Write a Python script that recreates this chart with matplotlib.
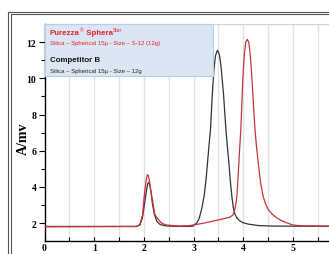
import matplotlib
matplotlib.use("Agg")
import matplotlib.pyplot as plt
from matplotlib.lines import Line2D
from matplotlib.patches import Rectangle

# ---- data ----
black_x = [0, 1.85, 1.92, 1.97, 2.02, 2.06, 2.08, 2.10, 2.12, 2.14, 2.17, 2.21, 2.26, 2.33,
           2.45, 2.7, 2.98, 3.06, 3.11, 3.16, 3.21, 3.25, 3.28, 3.31, 3.34, 3.38, 3.41,
           3.44, 3.48, 3.52, 3.55, 3.60, 3.65, 3.68, 3.71, 3.74, 3.77, 3.80, 3.83, 3.87,
           3.92, 4.0, 4.1, 4.3, 4.6, 5.73]
black_y = [1.82, 1.82, 1.90, 2.30, 3.20, 3.95, 4.20, 4.25, 4.10, 3.80, 3.10, 2.50, 2.10,
           1.92, 1.85, 1.82, 1.83, 2.00, 2.25, 2.75, 3.47, 4.40, 5.34, 6.30, 7.18, 9.30,
           10.5, 11.25, 11.55, 11.3, 10.7, 9.20, 7.18, 6.20, 5.34, 4.30, 3.47, 2.85, 2.50,
           2.30, 2.15, 2.02, 1.95, 1.87, 1.84, 1.83]

red_x = [0, 1.85, 1.92, 1.975, 2.0, 2.03, 2.05, 2.07, 2.09, 2.11, 2.13, 2.15, 2.18, 2.22,
         2.29, 2.36, 2.45, 2.7, 2.93, 3.2, 3.53, 3.73, 3.79, 3.82, 3.85, 3.87, 3.89, 3.92,
         3.95, 3.99, 4.02, 4.05, 4.08, 4.11, 4.14, 4.175, 4.21, 4.235, 4.27, 4.31, 4.35,
         4.40, 4.45, 4.50, 4.58, 4.67, 4.77, 4.87, 5.0, 5.2, 5.73]
red_y = [1.80, 1.82, 1.92, 2.48, 3.31, 4.05, 4.45, 4.68, 4.62, 4.35, 3.95, 3.60, 3.15,
         2.48, 2.20, 2.00, 1.90, 1.84, 1.87, 2.00, 2.20, 2.33, 2.45, 2.65, 3.05, 3.47,
         4.30, 5.80, 7.18, 9.94, 11.3, 12.0, 12.15, 12.0, 11.3, 9.94, 8.30, 7.18, 6.10,
         5.10, 4.20, 3.47, 3.05, 2.76, 2.50, 2.30, 2.14, 2.02, 1.90, 1.85, 1.84]

x_ticks = [0, 1, 2, 3, 4, 5]
y_ticks = [2, 4, 6, 8, 10, 12]
y_label = "A/mv"
brand_name = "Purezza"
brand_reg = "®"
brand_product = " Sphera"
brand_sup = "Star"
brand_desc = "Silica – Spherical 15µ - Size – S-12 (12g)"
comp_name = "Competitor B"
comp_desc = "Silica – Spherical 15µ - Size – 12g"

W, H = 329, 255
fig = plt.figure(figsize=(W / 100, H / 100), dpi=100)
fig.patch.set_facecolor("white")

# double border of the figure frame
for off in (8.3, 11.0):
    fig.add_artist(Line2D([off / W, off / W], [0, 1 - (off + 4.4) / H],
                          transform=fig.transFigure, color="#555555", lw=0.8))
for off in (12.7, 15.0):
    fig.add_artist(Line2D([(off - 4.4) / W, 1], [1 - off / H, 1 - off / H],
                          transform=fig.transFigure, color="#555555", lw=0.8))

left = 44.5 / W
bottom = (H - 242.3) / H
top = (H - 25) / H
ax = fig.add_axes([left, bottom, 1 - left, top - bottom])
ax.set_xlim(0, (W - 44.5) / 49.7)
ax.set_ylim(1, 13)

for gx in [0.5, 1.0, 1.5, 2.0, 2.5, 3.0, 3.5, 4.0, 4.5, 5.0, 5.5]:
    ax.axvline(gx, color="#e2e2e2", lw=1.0, zorder=0)

ax.plot(black_x, black_y, color="#333333", lw=0.9, zorder=3)
ax.plot(red_x, red_y, color="#c8323c", lw=0.9, zorder=4)

ax.spines["right"].set_visible(False)
ax.spines["top"].set_color("#d0d0d0")
ax.spines["top"].set_linewidth(0.8)
ax.spines["left"].set_linewidth(1.0)
ax.spines["bottom"].set_linewidth(1.0)

ax.set_xticks(x_ticks)
ax.set_xticks([0.5, 1.5, 2.5, 3.5, 4.5, 5.5], minor=True)
ax.set_yticks(y_ticks)
ax.set_yticks([3, 5, 7, 9, 11], minor=True)
ax.tick_params(axis="x", which="both", direction="in", length=3, width=0.8, pad=1.5)
ax.tick_params(axis="y", which="major", direction="out", length=4, width=0.8, pad=2)
ax.tick_params(axis="y", which="minor", direction="out", length=3, width=0.8)
for lab in ax.get_xticklabels() + ax.get_yticklabels():
    lab.set_fontfamily("Liberation Serif")
    lab.set_fontweight("bold")
    lab.set_fontsize(7)

fig.text(23 / W, 1 - 139 / H, y_label, rotation=90, ha="center", va="center",
         fontfamily="Liberation Serif", fontweight="bold", fontsize=10)

# legend box
box = Rectangle((left, 1 - 76.5 / H), (212.5 - 44.5) / W, (76.5 - 25) / H,
                transform=fig.transFigure, facecolor="#dce6f2", edgecolor="#b9cde5",
                lw=0.8, zorder=5)
fig.add_artist(box)

red_txt = "#e0202c"
renderer = fig.canvas.get_renderer()

base_y = 1 - 35.5 / H
t1 = fig.text(50 / W, base_y, brand_name, color=red_txt, fontfamily="Liberation Sans",
              fontweight="bold", fontsize=5.7, va="baseline", ha="left", zorder=6)
bb1 = t1.get_window_extent(renderer)
t2 = fig.text((bb1.x1 + 0.2) / W, base_y + 3.0 / H, brand_reg, color=red_txt,
              fontfamily="Liberation Sans", fontsize=3.6, va="baseline", ha="left", zorder=6)
bb2 = t2.get_window_extent(renderer)
t3 = fig.text((bb2.x1) / W, base_y, brand_product, color=red_txt,
              fontfamily="Liberation Sans", fontweight="bold", fontsize=5.7,
              va="baseline", ha="left", zorder=6)
bb3 = t3.get_window_extent(renderer)
t4 = fig.text((bb3.x1 + 0.3) / W, base_y + 3.2 / H, brand_sup, color=red_txt,
              fontfamily="Liberation Sans", fontsize=3.6, va="baseline", ha="left", zorder=6)

fig.text(50 / W, 1 - 44 / H, brand_desc, color=red_txt, fontfamily="Liberation Sans",
         fontsize=4.3, va="center", ha="left", zorder=6)
fig.text(50 / W, 1 - 61 / H, comp_name, color="#111111", fontfamily="Liberation Sans",
         fontweight="bold", fontsize=5.7, va="center", ha="left", zorder=6)
fig.text(50 / W, 1 - 71 / H, comp_desc, color="#222222", fontfamily="Liberation Sans",
         fontsize=4.3, va="center", ha="left", zorder=6)

fig.savefig("out.png", dpi=100)
